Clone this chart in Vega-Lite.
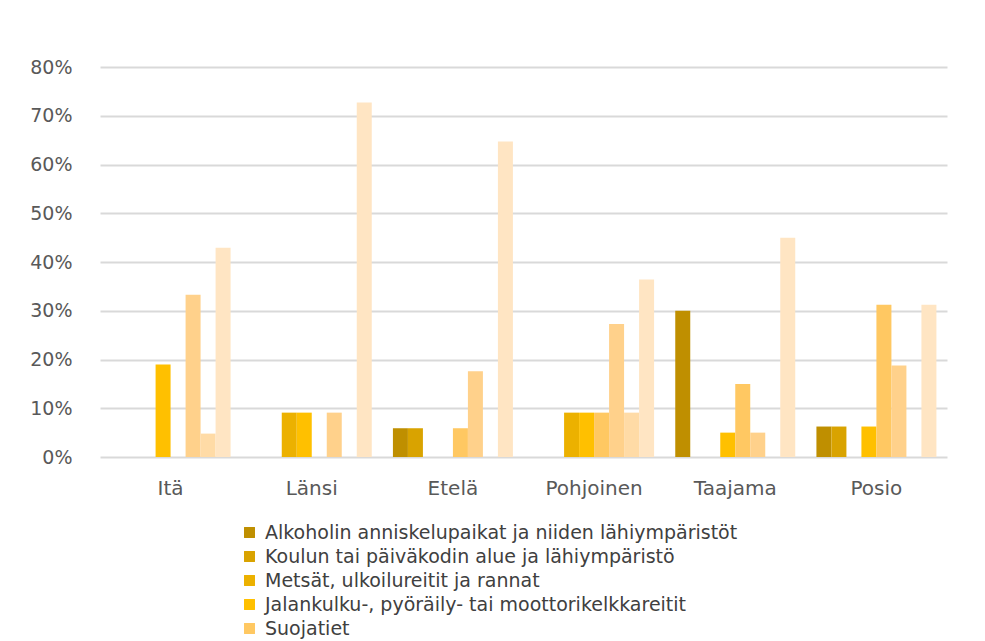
{
  "$schema": "https://vega.github.io/schema/vega-lite/v6.json",
  "width": 847,
  "height": 390,
  "autosize": {"type": "none"},
  "padding": {"left": 100, "top": 67, "right": 38, "bottom": 184},
  "background": "white",
  "config": {
    "view": {"stroke": null},
    "font": "DejaVu Sans"
  },
  "data": {
    "values": [
      {"alue": "Itä", "paikka": "Alkoholin anniskelupaikat ja niiden lähiympäristöt", "osuus": 0},
      {"alue": "Itä", "paikka": "Koulun tai päiväkodin alue ja lähiympäristö", "osuus": 0},
      {"alue": "Itä", "paikka": "Metsät, ulkoilureitit ja rannat", "osuus": 0},
      {"alue": "Itä", "paikka": "Jalankulku-, pyöräily- tai moottorikelkkareitit", "osuus": 0.19},
      {"alue": "Itä", "paikka": "Suojatiet", "osuus": 0},
      {"alue": "Itä", "paikka": "Kauppojen ja kioskien lähiympäristöt", "osuus": 0.333},
      {"alue": "Itä", "paikka": "Linja-autopysäkit", "osuus": 0.048},
      {"alue": "Itä", "paikka": "Muu paikka", "osuus": 0.429},
      {"alue": "Länsi", "paikka": "Alkoholin anniskelupaikat ja niiden lähiympäristöt", "osuus": 0},
      {"alue": "Länsi", "paikka": "Koulun tai päiväkodin alue ja lähiympäristö", "osuus": 0},
      {"alue": "Länsi", "paikka": "Metsät, ulkoilureitit ja rannat", "osuus": 0.091},
      {"alue": "Länsi", "paikka": "Jalankulku-, pyöräily- tai moottorikelkkareitit", "osuus": 0.091},
      {"alue": "Länsi", "paikka": "Suojatiet", "osuus": 0},
      {"alue": "Länsi", "paikka": "Kauppojen ja kioskien lähiympäristöt", "osuus": 0.091},
      {"alue": "Länsi", "paikka": "Linja-autopysäkit", "osuus": 0},
      {"alue": "Länsi", "paikka": "Muu paikka", "osuus": 0.727},
      {"alue": "Etelä", "paikka": "Alkoholin anniskelupaikat ja niiden lähiympäristöt", "osuus": 0.059},
      {"alue": "Etelä", "paikka": "Koulun tai päiväkodin alue ja lähiympäristö", "osuus": 0.059},
      {"alue": "Etelä", "paikka": "Metsät, ulkoilureitit ja rannat", "osuus": 0},
      {"alue": "Etelä", "paikka": "Jalankulku-, pyöräily- tai moottorikelkkareitit", "osuus": 0},
      {"alue": "Etelä", "paikka": "Suojatiet", "osuus": 0.059},
      {"alue": "Etelä", "paikka": "Kauppojen ja kioskien lähiympäristöt", "osuus": 0.176},
      {"alue": "Etelä", "paikka": "Linja-autopysäkit", "osuus": 0},
      {"alue": "Etelä", "paikka": "Muu paikka", "osuus": 0.647},
      {"alue": "Pohjoinen", "paikka": "Alkoholin anniskelupaikat ja niiden lähiympäristöt", "osuus": 0},
      {"alue": "Pohjoinen", "paikka": "Koulun tai päiväkodin alue ja lähiympäristö", "osuus": 0},
      {"alue": "Pohjoinen", "paikka": "Metsät, ulkoilureitit ja rannat", "osuus": 0.091},
      {"alue": "Pohjoinen", "paikka": "Jalankulku-, pyöräily- tai moottorikelkkareitit", "osuus": 0.091},
      {"alue": "Pohjoinen", "paikka": "Suojatiet", "osuus": 0.091},
      {"alue": "Pohjoinen", "paikka": "Kauppojen ja kioskien lähiympäristöt", "osuus": 0.273},
      {"alue": "Pohjoinen", "paikka": "Linja-autopysäkit", "osuus": 0.091},
      {"alue": "Pohjoinen", "paikka": "Muu paikka", "osuus": 0.364},
      {"alue": "Taajama", "paikka": "Alkoholin anniskelupaikat ja niiden lähiympäristöt", "osuus": 0.30},
      {"alue": "Taajama", "paikka": "Koulun tai päiväkodin alue ja lähiympäristö", "osuus": 0},
      {"alue": "Taajama", "paikka": "Metsät, ulkoilureitit ja rannat", "osuus": 0},
      {"alue": "Taajama", "paikka": "Jalankulku-, pyöräily- tai moottorikelkkareitit", "osuus": 0.05},
      {"alue": "Taajama", "paikka": "Suojatiet", "osuus": 0.15},
      {"alue": "Taajama", "paikka": "Kauppojen ja kioskien lähiympäristöt", "osuus": 0.05},
      {"alue": "Taajama", "paikka": "Linja-autopysäkit", "osuus": 0},
      {"alue": "Taajama", "paikka": "Muu paikka", "osuus": 0.45},
      {"alue": "Posio", "paikka": "Alkoholin anniskelupaikat ja niiden lähiympäristöt", "osuus": 0.0625},
      {"alue": "Posio", "paikka": "Koulun tai päiväkodin alue ja lähiympäristö", "osuus": 0.0625},
      {"alue": "Posio", "paikka": "Metsät, ulkoilureitit ja rannat", "osuus": 0},
      {"alue": "Posio", "paikka": "Jalankulku-, pyöräily- tai moottorikelkkareitit", "osuus": 0.0625},
      {"alue": "Posio", "paikka": "Suojatiet", "osuus": 0.3125},
      {"alue": "Posio", "paikka": "Kauppojen ja kioskien lähiympäristöt", "osuus": 0.1875},
      {"alue": "Posio", "paikka": "Linja-autopysäkit", "osuus": 0},
      {"alue": "Posio", "paikka": "Muu paikka", "osuus": 0.3125}
    ]
  },
  "mark": {"type": "bar"},
  "encoding": {
    "x": {
      "field": "alue",
      "type": "nominal",
      "sort": ["Itä", "Länsi", "Etelä", "Pohjoinen", "Taajama", "Posio"],
      "scale": {"paddingInner": 0.15, "paddingOuter": 0.075},
      "axis": {
        "title": null,
        "labelAngle": 0,
        "labelFontSize": 20,
        "labelColor": "#595959",
        "labelPadding": 21,
        "domain": false,
        "ticks": false
      }
    },
    "xOffset": {
      "field": "paikka",
      "type": "nominal",
      "sort": [
        "Alkoholin anniskelupaikat ja niiden lähiympäristöt",
        "Koulun tai päiväkodin alue ja lähiympäristö",
        "Metsät, ulkoilureitit ja rannat",
        "Jalankulku-, pyöräily- tai moottorikelkkareitit",
        "Suojatiet",
        "Kauppojen ja kioskien lähiympäristöt",
        "Linja-autopysäkit",
        "Muu paikka"
      ],
      "scale": {"paddingInner": 0, "paddingOuter": 0}
    },
    "y": {
      "field": "osuus",
      "type": "quantitative",
      "scale": {"domain": [0, 0.8]},
      "axis": {
        "title": null,
        "format": ".0%",
        "values": [0, 0.1, 0.2, 0.3, 0.4, 0.5, 0.6, 0.7, 0.8],
        "labelOverlap": false,
        "labelFontSize": 19,
        "labelColor": "#595959",
        "labelPadding": 28,
        "domain": false,
        "ticks": false,
        "grid": true,
        "gridColor": "#D9D9D9",
        "gridWidth": 2
      }
    },
    "color": {
      "field": "paikka",
      "type": "nominal",
      "scale": {
        "domain": [
          "Alkoholin anniskelupaikat ja niiden lähiympäristöt",
          "Koulun tai päiväkodin alue ja lähiympäristö",
          "Metsät, ulkoilureitit ja rannat",
          "Jalankulku-, pyöräily- tai moottorikelkkareitit",
          "Suojatiet",
          "Kauppojen ja kioskien lähiympäristöt",
          "Linja-autopysäkit",
          "Muu paikka"
        ],
        "range": ["#BF8F00", "#D9A300", "#ECB100", "#FFC000", "#FFC862", "#FFD18B", "#FFDBA6", "#FFE5C3"]
      },
      "legend": {
        "title": null,
        "orient": "none",
        "legendX": 140,
        "legendY": 456,
        "values": [
          "Alkoholin anniskelupaikat ja niiden lähiympäristöt",
          "Koulun tai päiväkodin alue ja lähiympäristö",
          "Metsät, ulkoilureitit ja rannat",
          "Jalankulku-, pyöräily- tai moottorikelkkareitit",
          "Suojatiet"
        ],
        "symbolType": "square",
        "symbolSize": 120,
        "symbolStrokeWidth": 0,
        "labelFontSize": 19,
        "labelColor": "#404040",
        "labelLimit": 700,
        "rowPadding": 4,
        "labelOffset": 6
      }
    }
  }
}
